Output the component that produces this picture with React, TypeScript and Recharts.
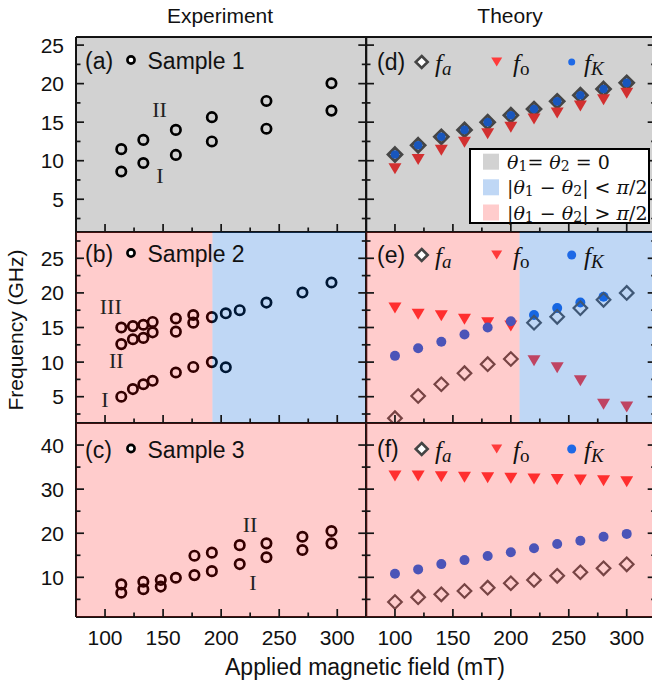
import React from "react";
import { ScatterChart, Scatter, XAxis, YAxis, ReferenceArea } from "recharts";

// ---- experiment ----
const s1Field = [114, 133, 161, 192, 239, 295];
const s1BranchI = [8.6, 9.7, 10.75, 12.5, 14.15, 16.5];
const s1BranchII = [11.5, 12.7, 14.0, 15.65, 17.75, 20.05];

const s2Field = [114, 124, 133, 141, 161, 176, 192, 204, 216, 239, 270, 295];
const s2BranchI = [5.0, 6.1, 6.8, 7.3, 8.5, 9.3, 10.0, 9.25];
const s2BranchII = [12.6, 13.3, 13.5, 14.3, 14.4, 15.7];
const s2BranchIII = [15.0, 15.2, 15.4, 15.8, 16.3, 16.8, 16.5, 17.05, 17.5, 18.6, 20.05, 21.5];

const s3FieldI = [114, 133, 148, 161, 177, 192, 216, 239, 270, 295];
const s3BranchI = [6.5, 7.3, 7.9, 9.9, 10.5, 11.4, 13.0, 14.55, 16.2, 17.7];
const s3FieldII = [114, 133, 148, 177, 192, 216, 239, 270, 295];
const s3BranchII = [8.4, 9.0, 9.4, 14.9, 15.6, 17.3, 17.7, 19.2, 20.5];

// ---- theory ----
const theoryField = [100, 120, 140, 160, 180, 200, 220, 240, 260, 280, 300];
const faD = [10.8, 12.0, 13.1, 14.0, 15.0, 15.9, 16.7, 17.7, 18.5, 19.3, 20.1];
const foD = [8.95, 10.15, 11.35, 12.4, 13.5, 14.35, 15.4, 16.2, 17.1, 17.9, 18.75];
const fkD = [10.8, 12.0, 13.1, 14.0, 15.0, 15.9, 16.7, 17.7, 18.5, 19.3, 20.1];

const faE = [1.9, 5.1, 6.8, 8.4, 9.7, 10.45, 15.7, 16.55, 17.8, 19.0, 20.0];
const foE = [17.8, 16.9, 16.7, 16.2, 15.7, 15.2, 10.2, 9.2, 7.3, 3.9, 3.5];
const fkE = [10.9, 12.0, 12.95, 14.0, 15.0, 15.9, 16.8, 17.8, 18.6, 19.45];

const faF = [4.4, 5.5, 6.15, 6.9, 7.65, 8.65, 9.4, 10.35, 11.15, 12.05, 12.95];
const foF = [33.0, 33.0, 32.8, 32.7, 32.6, 32.45, 32.3, 32.2, 32.05, 31.9, 31.7];
const fkF = [10.8, 11.8, 13.0, 13.9, 14.85, 15.7, 16.6, 17.55, 18.3, 19.2, 19.85];

// shaded regions: boundary fields for panels (b) and (e)
const bBoundary = 192.5;
const eBoundary = 207.5;

const xMajor = [100, 150, 200, 250, 300];
const xMinor = [125, 175, 225, 275];
const X_DOMAIN: [number, number] = [75, 325];

const pts = (xs: number[], ys: number[]) => ys.map((y, i) => ({ x: xs[i], y }));

const GRAY = { fill: "#000000", opacity: 0.176 };
const PINK = { fill: "#ff0000", opacity: 0.2 };
const BLUE = { fill: "#005fd7", opacity: 0.25 };

const FRAME = "#151515";
const SANS = "'Liberation Sans', Arial, sans-serif";
const SERIF = "'Liberation Serif', 'Times New Roman', serif";
const MATH = "'DejaVu Serif', serif";

type Side = "left" | "right" | "top" | "bottom";

const makeTick = (side: Side, majors: number[], showLabel: boolean) => (props: any) => {
  const { x, y, payload } = props;
  const v = payload.value;
  const major = majors.includes(v);
  const len = major ? 8 : 4.5;
  let line;
  if (side === "left") line = <line x1={x} x2={x + len} y1={y} y2={y} />;
  else if (side === "right") line = <line x1={x} x2={x - len} y1={y} y2={y} />;
  else if (side === "top") line = <line x1={x} x2={x} y1={y} y2={y + len} />;
  else line = <line x1={x} x2={x} y1={y} y2={y - len} />;
  return (
    <g stroke={FRAME} strokeWidth={1.7}>
      {line}
      {showLabel && major && side === "left" && (
        <text x={x - 12} y={y} textAnchor="end" dominantBaseline="central" stroke="none" fill="#111" fontSize={21} fontFamily={SANS}>
          {v}
        </text>
      )}
      {showLabel && major && side === "bottom" && (
        <text x={x} y={y + 21} textAnchor="middle" dominantBaseline="central" stroke="none" fill="#111" fontSize={21} fontFamily={SANS}>
          {v}
        </text>
      )}
    </g>
  );
};

type Shade = { x1: number; x2: number; fill: string; opacity: number };

function Panel({
  box,
  yDomain,
  yMajor,
  yMinor,
  yLabels,
  xLabels,
  shades,
  children,
}: {
  box: { x: number; y: number; w: number; h: number };
  yDomain: [number, number];
  yMajor: number[];
  yMinor: number[];
  yLabels: boolean;
  xLabels: boolean;
  shades: Shade[];
  children: React.ReactNode;
}) {
  const ML = 70, MR = 10, MT = 10, MB = 40;
  const yTicks = [...yMajor, ...yMinor].sort((a, b) => a - b);
  const xTicks = [...xMajor, ...xMinor].sort((a, b) => a - b);
  const axisLine = { stroke: FRAME, strokeWidth: 2 };
  return (
    <div style={{ position: "absolute", left: box.x - ML, top: box.y - MT }}>
      <ScatterChart
        width={box.w + ML + MR}
        height={box.h + MT + MB}
        margin={{ left: ML - 1, right: MR - 1, top: MT - 1, bottom: MB - 1 }}
      >
        <XAxis xAxisId={0} orientation="bottom" type="number" dataKey="x" domain={X_DOMAIN} allowDataOverflow
          ticks={xTicks} interval={0} height={1} tickSize={0} tickMargin={0} tickLine={false} axisLine={axisLine}
          tick={makeTick("bottom", xMajor, xLabels)} />
        <XAxis xAxisId="top" orientation="top" type="number" domain={X_DOMAIN} allowDataOverflow
          ticks={xTicks} interval={0} height={1} tickSize={0} tickMargin={0} tickLine={false} axisLine={axisLine}
          tick={makeTick("top", xMajor, false)} />
        <YAxis yAxisId={0} orientation="left" type="number" dataKey="y" domain={yDomain} allowDataOverflow
          ticks={yTicks} interval={0} width={1} tickSize={0} tickMargin={0} tickLine={false} axisLine={axisLine}
          tick={makeTick("left", yMajor, yLabels)} />
        <YAxis yAxisId="right" orientation="right" type="number" domain={yDomain} allowDataOverflow
          ticks={yTicks} interval={0} width={1} tickSize={0} tickMargin={0} tickLine={false} axisLine={axisLine}
          tick={makeTick("right", yMajor, false)} />
        {children}
        {shades.map((s, i) => (
          <ReferenceArea key={i} x1={s.x1} x2={s.x2} y1={yDomain[0]} y2={yDomain[1]}
            fill={s.fill} fillOpacity={s.opacity} stroke="none" zIndex={1000} ifOverflow="visible" />
        ))}
      </ScatterChart>
    </div>
  );
}

const ring = (p: any) => (
  <circle cx={p.cx} cy={p.cy} r={4.7} fill="none" stroke="#000" strokeWidth={2.7} />
);
const diamond = (sw: number) => (p: any) => (
  <path d={`M${p.cx},${p.cy - 6.8}L${p.cx + 6.8},${p.cy}L${p.cx},${p.cy + 6.8}L${p.cx - 6.8},${p.cy}Z`}
    fill="none" stroke="#555" strokeWidth={sw} strokeLinejoin="miter" />
);
const downTri = (p: any) => (
  <path d={`M${p.cx - 6.5},${p.cy - 5.5}L${p.cx + 6.5},${p.cy - 5.5}L${p.cx},${p.cy + 5.5}Z`} fill="#ff3b3b" />
);
const dot = (r: number) => (p: any) => <circle cx={p.cx} cy={p.cy} r={r} fill="#1e69e6" />;

const LEFT = { x: 75.7, w: 290.3 };
const RIGHT = { x: 366, w: 289.7 };
const ROW_A = { y: 37, h: 195 };
const ROW_B = { y: 232, h: 191 };
const ROW_C = { y: 423, h: 194 };

const domA: [number, number] = [0.75, 26.05];
const domB: [number, number] = [1.2, 28.8];
const domC: [number, number] = [1, 45];
const majA = [5, 10, 15, 20, 25];
const minA = [2.5, 7.5, 12.5, 17.5, 22.5];
const minB = [2.5, 7.5, 12.5, 17.5, 22.5, 27.5];
const majC = [10, 20, 30, 40];
const minC = [5, 15, 25, 35];

function SampleTag({ y, tag, label }: { y: number; tag: string; label: string }) {
  return (
    <g fontFamily={SANS} fontSize={23} fill="#111">
      <text x={85} y={y} dominantBaseline="central">{tag}</text>
      <circle cx={131} cy={y - 1} r={3.6} fill="#fff" stroke="#000" strokeWidth={2.6} />
      <text x={147.5} y={y} dominantBaseline="central">{label}</text>
    </g>
  );
}

function TheoryTag({ y, tag, dotR }: { y: number; tag: string; dotR: number }) {
  return (
    <g>
      <text x={377} y={y} dominantBaseline="central" fontFamily={SANS} fontSize={23} fill="#111">{tag}</text>
      <path d={`M421.7,${y - 6}L427.7,${y}L421.7,${y + 6}L415.7,${y}Z`} fill="#fff" stroke="#444" strokeWidth={2.6} />
      <text x={435} y={y + 1} dominantBaseline="central" fontFamily={SERIF} fontStyle="italic" fontSize={25} fill="#111">
        f<tspan fontSize={19} dy={5}>a</tspan>
      </text>
      <path d={`M491.2,${y - 4.5}L502.2,${y - 4.5}L496.7,${y + 4.5}Z`} fill="#ff3b3b" />
      <text x={513} y={y + 1} dominantBaseline="central" fontFamily={SERIF} fontSize={25} fill="#111">
        <tspan fontStyle="italic">f</tspan><tspan fontSize={19} dy={5}>o</tspan>
      </text>
      <circle cx={571.7} cy={y} r={dotR} fill="#1e69e6" />
      <text x={584} y={y + 1} dominantBaseline="central" fontFamily={SERIF} fontStyle="italic" fontSize={25} fill="#111">
        f<tspan fontSize={19} dy={5}>K</tspan>
      </text>
    </g>
  );
}

// one legend row: |θ1 − θ2| <op> π/2  (or θ1= θ2 = 0)
function ThetaRow({ y, kind }: { y: number; kind: "eq" | "lt" | "gt" }) {
  const bar = kind === "eq" ? "" : "|";
  return (
    <text x={507} y={y} dominantBaseline="central">
      {bar}<tspan fontStyle="italic">θ</tspan>
      <tspan fontSize={14} dy={4}>1</tspan>
      <tspan dy={-4}>{kind === "eq" ? "= " : " − "}</tspan>
      <tspan fontStyle="italic">θ</tspan>
      <tspan fontSize={14} dy={4}>2</tspan>
      <tspan dy={-4}>{kind === "eq" ? " = 0" : kind === "lt" ? "| < " : "| > "}</tspan>
      {kind !== "eq" && <tspan fontStyle="italic">π</tspan>}
      {kind !== "eq" && <tspan>/2</tspan>}
    </text>
  );
}

export default function App() {
  return (
    <div style={{ position: "absolute", left: 0, top: 0, width: 652, height: 683, background: "#fff", overflow: "hidden" }}>
      {/* (a) */}
      <Panel box={{ ...LEFT, ...ROW_A }} yDomain={domA} yMajor={majA} yMinor={minA} yLabels xLabels={false}
        shades={[{ x1: 75, x2: 325, ...GRAY }]}>
        <Scatter data={pts(s1Field, s1BranchI)} shape={ring} isAnimationActive={false} />
        <Scatter data={pts(s1Field, s1BranchII)} shape={ring} isAnimationActive={false} />
      </Panel>
      {/* (d) */}
      <Panel box={{ ...RIGHT, ...ROW_A }} yDomain={domA} yMajor={majA} yMinor={minA} yLabels={false} xLabels={false}
        shades={[{ x1: 75, x2: 325, ...GRAY }]}>
        <Scatter data={pts(theoryField, faD)} shape={diamond(3)} isAnimationActive={false} />
        <Scatter data={pts(theoryField, foD)} shape={downTri} isAnimationActive={false} />
        <Scatter data={pts(theoryField, fkD)} shape={dot(4.3)} isAnimationActive={false} />
      </Panel>
      {/* (b) */}
      <Panel box={{ ...LEFT, ...ROW_B }} yDomain={domB} yMajor={majA} yMinor={minB} yLabels xLabels={false}
        shades={[{ x1: 75, x2: bBoundary, ...PINK }, { x1: bBoundary, x2: 325, ...BLUE }]}>
        <Scatter data={pts(s2Field, s2BranchI)} shape={ring} isAnimationActive={false} />
        <Scatter data={pts(s2Field, s2BranchII)} shape={ring} isAnimationActive={false} />
        <Scatter data={pts(s2Field, s2BranchIII)} shape={ring} isAnimationActive={false} />
      </Panel>
      {/* (e) */}
      <Panel box={{ ...RIGHT, ...ROW_B }} yDomain={domB} yMajor={majA} yMinor={minB} yLabels={false} xLabels={false}
        shades={[{ x1: 75, x2: eBoundary, ...PINK }, { x1: eBoundary, x2: 325, ...BLUE }]}>
        <Scatter data={pts(theoryField, foE)} shape={downTri} isAnimationActive={false} />
        <Scatter data={pts(theoryField, fkE)} shape={dot(5)} isAnimationActive={false} />
        <Scatter data={pts(theoryField, faE)} shape={diamond(2.2)} isAnimationActive={false} />
      </Panel>
      {/* (c) */}
      <Panel box={{ ...LEFT, ...ROW_C }} yDomain={domC} yMajor={majC} yMinor={minC} yLabels xLabels
        shades={[{ x1: 75, x2: 325, ...PINK }]}>
        <Scatter data={pts(s3FieldI, s3BranchI)} shape={ring} isAnimationActive={false} />
        <Scatter data={pts(s3FieldII, s3BranchII)} shape={ring} isAnimationActive={false} />
      </Panel>
      {/* (f) */}
      <Panel box={{ ...RIGHT, ...ROW_C }} yDomain={domC} yMajor={majC} yMinor={minC} yLabels={false} xLabels
        shades={[{ x1: 75, x2: 325, ...PINK }]}>
        <Scatter data={pts(theoryField, foF)} shape={downTri} isAnimationActive={false} />
        <Scatter data={pts(theoryField, fkF)} shape={dot(5)} isAnimationActive={false} />
        <Scatter data={pts(theoryField, faF)} shape={diamond(2.2)} isAnimationActive={false} />
      </Panel>

      <svg width={652} height={683} style={{ position: "absolute", left: 0, top: 0, pointerEvents: "none" }}>
        <text x={220} y={15} textAnchor="middle" dominantBaseline="central" fontFamily={SANS} fontSize={21} fill="#111">Experiment</text>
        <text x={510} y={15} textAnchor="middle" dominantBaseline="central" fontFamily={SANS} fontSize={21} fill="#111">Theory</text>
        <text transform="translate(15,330) rotate(-90)" textAnchor="middle" dominantBaseline="central" fontFamily={SANS} fontSize={21} fill="#111">
          Frequency (GHz)
        </text>
        <text x={365} y={667} textAnchor="middle" dominantBaseline="central" fontFamily={SANS} fontSize={23} fill="#111">
          Applied magnetic field (mT)
        </text>

        <SampleTag y={61} tag="(a)" label="Sample 1" />
        <SampleTag y={254} tag="(b)" label="Sample 2" />
        <SampleTag y={449.5} tag="(c)" label="Sample 3" />

        <TheoryTag y={62} tag="(d)" dotR={3.5} />
        <TheoryTag y={255} tag="(e)" dotR={4.5} />
        <TheoryTag y={449} tag="(f)" dotR={4.5} />

        <g fontFamily={SERIF} fontSize={22} fill="#222" textAnchor="middle" dominantBaseline="central">
          <text x={159.5} y={109.5}>II</text>
          <text x={160} y={175.5}>I</text>
          <text x={110.8} y={306.5}>III</text>
          <text x={116.3} y={360.7}>II</text>
          <text x={105} y={399.3}>I</text>
          <text x={250} y={524}>II</text>
          <text x={253} y={582.5}>I</text>
        </g>

        <g>
          <rect x={470} y={149} width={179} height={74} fill="#fff" stroke="#000" strokeWidth={2} />
          <rect x={483} y={153.7} width={16} height={16} fill="#d2d2d2" />
          <rect x={483} y={179.3} width={16} height={16} fill="#bfd7f5" />
          <rect x={483} y={204.5} width={16} height={16} fill="#ffcccc" />
          <g fontFamily={MATH} fontSize={19} fill="#111">
            <ThetaRow y={161.7} kind="eq" />
            <ThetaRow y={187.3} kind="lt" />
            <ThetaRow y={212.5} kind="gt" />
          </g>
        </g>
      </svg>
    </div>
  );
}
